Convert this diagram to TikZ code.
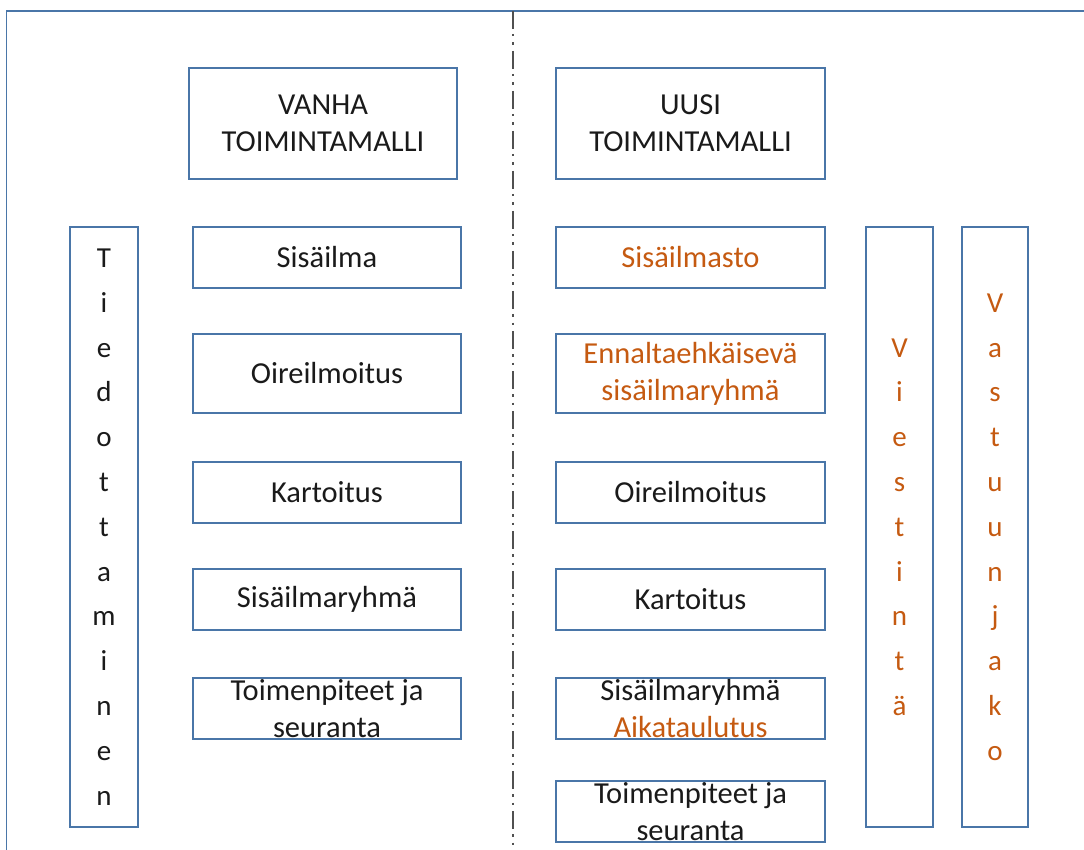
\documentclass[tikz,border=0pt]{standalone}
\usepackage{fontspec}
\setmainfont{Carlito}
\definecolor{edge}{HTML}{4A76A8}
\definecolor{accent}{HTML}{C55A11}
\definecolor{rule}{HTML}{505050}
\definecolor{ink}{HTML}{1A1A1A}
\begin{document}
\begin{tikzpicture}[x=1pt,y=-1pt,
  box/.style={draw=edge, line width=1.6pt, inner sep=0pt, align=center,
    text=ink, font=\fontsize{30.5}{37}\selectfont},
  wide/.style={box, minimum width=268, minimum height=61},
  tall/.style={box, minimum height=600, font=\fontsize{29}{44.8}\selectfont},
  hl/.style={text=accent},
  frame/.style={draw=edge, line width=1.8pt},
  divider/.style={draw=rule, line width=1.6pt,
    dash pattern=on 18pt off 5pt on 2.5pt off 6pt on 2.5pt off 6pt}
]
\useasboundingbox (0,0) rectangle (1084,850);
\clip (0,0) rectangle (1084,850);

% outer frame and centre divider
\draw[frame] (6.5,900) -- (6.5,11) -- (1120,11);
\draw[divider] (513,11) -- (513,850);

% headings
\node[box, minimum width=268, minimum height=111] (oldhead) at (323,123.5) {VANHA\\TOIMINTAMALLI};
\node[box, minimum width=269, minimum height=111] (newhead) at (690.5,123.5) {UUSI\\TOIMINTAMALLI};

% old model steps
\node[wide] (o1) at (327,257.5) {Sisäilma};
\node[wide, minimum height=79] (o2) at (327,373.5) {Oireilmoitus};
\node[wide] (o3) at (327,492.5) {Kartoitus};
\node[wide] (o4) at (327,599.5) {Sisäilmaryhmä};
\node[wide] (o5) at (327,708.5) {Toimenpiteet ja\\seuranta};

% new model steps
\node[wide, minimum width=269, hl] (n1) at (690.5,257.5) {Sisäilmasto};
\node[wide, minimum width=269, minimum height=79, hl] (n2) at (690.5,373.5) {Ennaltaehkäisevä\\sisäilmaryhmä};
\node[wide, minimum width=269] (n3) at (690.5,492.5) {Oireilmoitus};
\node[wide, minimum width=269] (n4) at (690.5,599.5) {Kartoitus};
\node[wide, minimum width=269] (n5) at (690.5,708.5) {Sisäilmaryhmä\\\textcolor{accent}{Aikataulutus}};
\node[wide, minimum width=269] (n6) at (690.5,811.5) {Toimenpiteet ja\\seuranta};

% vertical side bars
\node[tall, minimum width=68] (tied) at (104,527)
  {T\\i\\e\\d\\o\\t\\t\\a\\m\\i\\n\\e\\n};
\node[tall, minimum width=67, hl] (viest) at (899.5,527)
  {V\\i\\e\\s\\t\\i\\n\\t\\ä};
\node[tall, minimum width=66, hl] (vast) at (995,527)
  {V\\a\\s\\t\\u\\u\\n\\j\\a\\k\\o};
\end{tikzpicture}
\end{document}
